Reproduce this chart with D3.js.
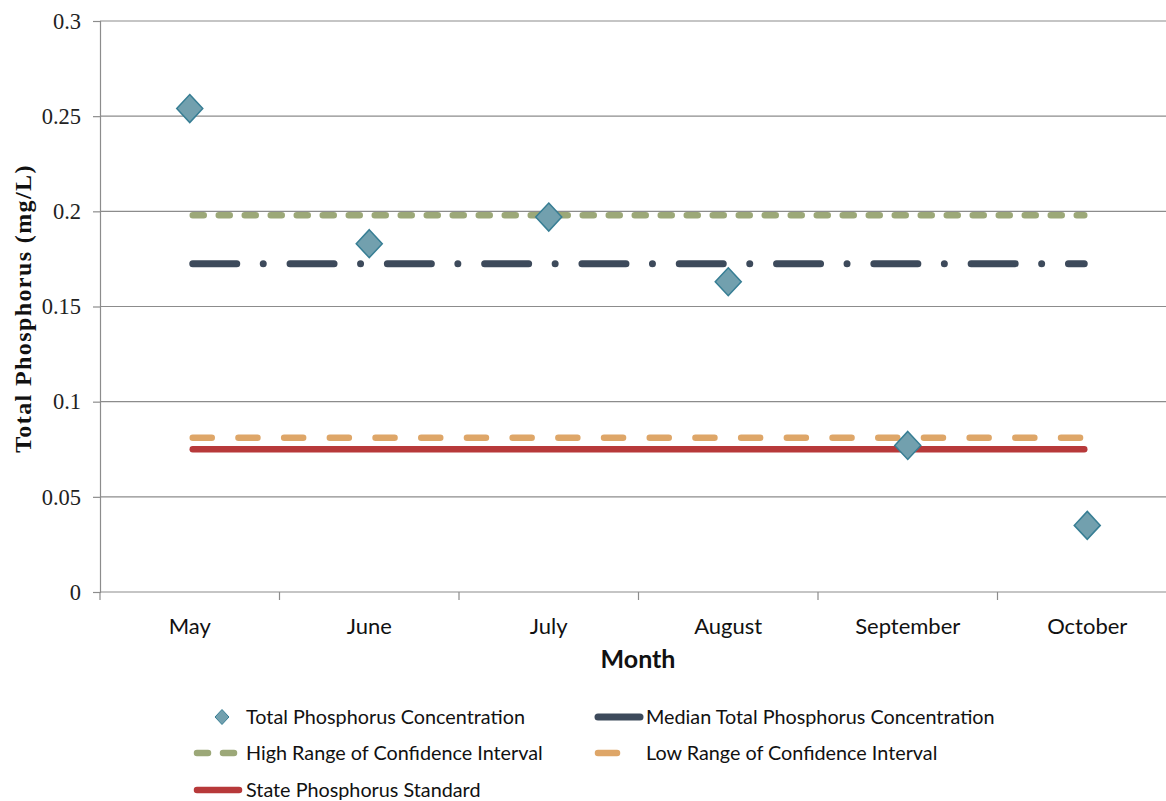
<!DOCTYPE html>
<html>
<head>
<meta charset="utf-8">
<script src="https://cdn.jsdelivr.net/npm/d3@7"></script>
<style>
  html, body { margin: 0; padding: 0; background: #fff; }
  svg { display: block; }
  .sans { font-family: "Lato", "Open Sans", sans-serif; }
  .serif { font-family: "Liberation Serif", "DejaVu Serif", serif; }
</style>
</head>
<body>
<svg id="chart" width="1166" height="801"></svg>
<script>
/* ============================
   DATA
============================ */
const months = ["May", "June", "July", "August", "September", "October"];
const tpValues = [0.254, 0.183, 0.197, 0.163, 0.077, 0.035];

const medianTP = 0.1725;
const highCI = 0.198;
const lowCI = 0.081;
const stateStd = 0.075;

const yTicks = [0, 0.05, 0.1, 0.15, 0.2, 0.25, 0.3];

/* ============================
   LAYOUT
============================ */
// the plot runs a little past the right edge of the picture (cropped)
const M = { left: 100, right: 1177, top: 21, bottom: 592 };
const W = 1166;

const svg = d3.select("#chart");

const x = d3.scaleBand().domain(months).range([M.left, M.right]).padding(0);
const y = d3.scaleLinear().domain([0, 0.3]).range([M.bottom, M.top]);
const cx = m => x(m) + x.bandwidth() / 2;

// gridlines
svg.append("g")
  .selectAll("line")
  .data(yTicks.filter(t => t > 0))
  .enter().append("line")
  .attr("x1", M.left).attr("x2", W)
  .attr("y1", d => y(d)).attr("y2", d => y(d))
  .attr("stroke", "#8c8c8c").attr("stroke-width", 1.2);

// y axis
const yAxis = svg.append("g")
  .attr("transform", `translate(${M.left},0)`)
  .call(d3.axisLeft(y).tickValues(yTicks).tickSize(7).tickPadding(12).tickFormat(d => String(+d.toFixed(2))));
yAxis.select(".domain").attr("stroke", "#8c8c8c").attr("stroke-width", 1.2);
yAxis.selectAll(".tick line").attr("stroke", "#8c8c8c").attr("stroke-width", 1.2);
yAxis.selectAll("text")
  .attr("class", "serif").attr("font-size", 22.5).attr("fill", "#222");

// x axis
svg.append("line")
  .attr("x1", M.left).attr("x2", W)
  .attr("y1", M.bottom).attr("y2", M.bottom)
  .attr("stroke", "#8c8c8c").attr("stroke-width", 1.2);
svg.append("g")
  .selectAll("line")
  .data(months.map(m => x(m)))
  .enter().append("line")
  .attr("x1", d => d).attr("x2", d => d)
  .attr("y1", M.bottom).attr("y2", M.bottom + 8)
  .attr("stroke", "#8c8c8c").attr("stroke-width", 1.2);
svg.append("g")
  .selectAll("text")
  .data(months)
  .enter().append("text")
  .attr("class", "sans")
  .attr("x", d => cx(d)).attr("y", 634)
  .attr("text-anchor", "middle")
  .attr("font-size", 22).attr("fill", "#111")
  .text(d => d);

// axis titles
svg.append("text")
  .attr("class", "serif")
  .attr("transform", `translate(31,${(M.top + M.bottom) / 2 + 2}) rotate(-90)`)
  .attr("text-anchor", "middle")
  .attr("font-size", 24).attr("font-weight", "bold").attr("fill", "#111")
  .attr("letter-spacing", 1.4)
  .text("Total Phosphorus (mg/L)");

svg.append("text")
  .attr("class", "sans")
  .attr("x", 638).attr("y", 668)
  .attr("text-anchor", "middle")
  .attr("font-size", 25).attr("font-weight", "bold").attr("fill", "#111")
  .text("Month");

/* ============================
   REFERENCE LINES
============================ */
const refLines = [
  { name: "High Range of Confidence Interval", value: highCI, color: "#9ca878", width: 6.5, dash: "11,15" },
  { name: "Median Total Phosphorus Concentration", value: medianTP, color: "#3d4a5b", width: 7, dash: "44,26.5,0,26.8" },
  { name: "Low Range of Confidence Interval", value: lowCI, color: "#dea668", width: 6.5, dash: "19,26.7" },
  { name: "State Phosphorus Standard", value: stateStd, color: "#b7393a", width: 6.5, dash: null }
];

const xStart = cx(months[0]);
const xEnd = cx(months[months.length - 1]);

svg.append("g")
  .selectAll("line")
  .data(refLines)
  .enter().append("line")
  .attr("x1", xStart + 3).attr("x2", xEnd - 3)
  .attr("y1", d => y(d.value)).attr("y2", d => y(d.value))
  .attr("stroke", d => d.color)
  .attr("stroke-width", d => d.width)
  .attr("stroke-linecap", "round")
  .attr("stroke-dasharray", d => d.dash);

/* ============================
   POINTS
============================ */
const diamond = (s) => `M0,${-s}L${s * 0.93},0L0,${s}L${-s * 0.93},0Z`;

svg.append("g")
  .selectAll("path")
  .data(months.map((m, i) => ({ m, v: tpValues[i] })))
  .enter().append("path")
  .attr("d", diamond(14))
  .attr("transform", d => `translate(${cx(d.m)},${y(d.v)})`)
  .attr("fill", "#72a0ae")
  .attr("stroke", "#377e94")
  .attr("stroke-width", 1.5);

/* ============================
   LEGEND
============================ */
const leg = svg.append("g").attr("class", "sans");
const legFont = 19.8;

// row 1 left: diamond
leg.append("path")
  .attr("d", diamond(7.5))
  .attr("transform", "translate(222,717)")
  .attr("fill", "#72a0ae").attr("stroke", "#377e94").attr("stroke-width", 1);
leg.append("text").attr("x", 246).attr("y", 717).attr("dy", "0.35em")
  .attr("font-size", legFont).attr("fill", "#111").text("Total Phosphorus Concentration");

const legItems = [
  { line: refLines[1], x: 598, y: 717, tx: 646 },
  { line: refLines[0], x: 197, y: 753, tx: 246 },
  { line: refLines[2], x: 598, y: 753, tx: 646 },
  { line: refLines[3], x: 197, y: 790, tx: 246 }
];

legItems.forEach(it => {
  leg.append("line")
    .attr("x1", it.x).attr("x2", it.x + 42)
    .attr("y1", it.y).attr("y2", it.y)
    .attr("stroke", it.line.color)
    .attr("stroke-width", it.line.width)
    .attr("stroke-linecap", "round")
    .attr("stroke-dasharray", it.line.dash);
  leg.append("text").attr("x", it.tx).attr("y", it.y).attr("dy", "0.35em")
    .attr("font-size", legFont).attr("fill", "#111").text(it.line.name);
});
</script>
</body>
</html>
